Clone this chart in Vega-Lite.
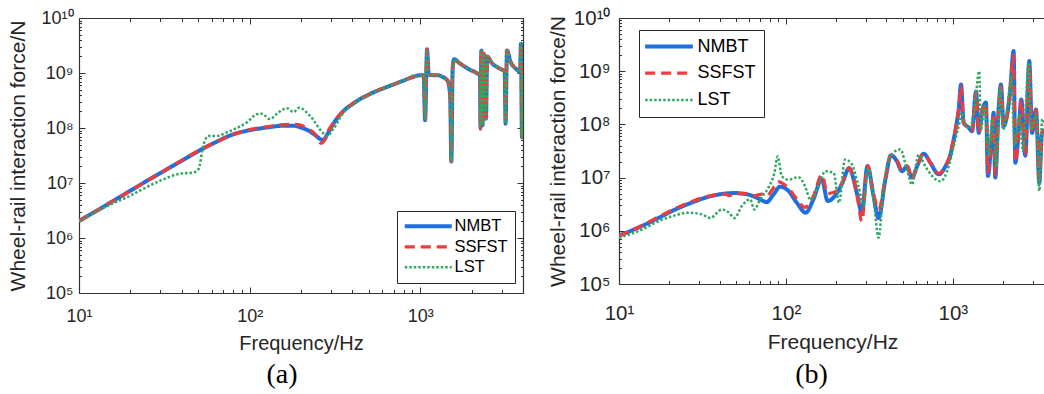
{
"$schema": "https://vega.github.io/schema/vega-lite/v6.json",
"background": "white",
"padding": {"left": 7, "top": 8, "right": 0, "bottom": 0},
"spacing": 23,
"config": {
  "view": {"stroke": null},
  "axis": {"labelFont": "Liberation Sans", "titleFont": "Liberation Sans", "labelColor": "#262626", "titleColor": "#262626", "titleFontWeight": "normal", "domainColor": "#333333", "domainWidth": 1.2, "tickColor": "#333333", "tickWidth": 1, "grid": false, "labelOverlap": false, "labelFlush": false}
},
"datasets": {
  "a": [
    {"s":"NMBT","f":10,"v":2.04e6},{"s":"NMBT","f":12.6,"v":3.09e6},{"s":"NMBT","f":15.8,"v":4.68e6},{"s":"NMBT","f":20,"v":7.24e6},{"s":"NMBT","f":25.1,"v":1.10e7},{"s":"NMBT","f":31.6,"v":1.66e7},{"s":"NMBT","f":39.8,"v":2.51e7},{"s":"NMBT","f":50.1,"v":3.80e7},{"s":"NMBT","f":63.1,"v":5.50e7},{"s":"NMBT","f":79.4,"v":7.59e7},{"s":"NMBT","f":100,"v":9.12e7},{"s":"NMBT","f":126,"v":1.02e8},{"s":"NMBT","f":158,"v":1.10e8},{"s":"NMBT","f":182,"v":1.10e8},{"s":"NMBT","f":200,"v":1.02e8},{"s":"NMBT","f":219,"v":9.12e7},{"s":"NMBT","f":240,"v":7.59e7},{"s":"NMBT","f":263,"v":6.17e7},{"s":"NMBT","f":272,"v":6.03e7},{"s":"NMBT","f":282,"v":7.24e7},{"s":"NMBT","f":316,"v":1.32e8},{"s":"NMBT","f":355,"v":2.04e8},{"s":"NMBT","f":398,"v":2.69e8},{"s":"NMBT","f":447,"v":3.39e8},{"s":"NMBT","f":501,"v":4.07e8},{"s":"NMBT","f":562,"v":4.79e8},{"s":"NMBT","f":631,"v":5.50e8},{"s":"NMBT","f":708,"v":6.31e8},{"s":"NMBT","f":794,"v":7.24e8},{"s":"NMBT","f":891,"v":8.32e8},{"s":"NMBT","f":1000,"v":9.12e8},{"s":"NMBT","f":1047,"v":9.12e8},{"s":"NMBT","f":1067,"v":1.38e8},{"s":"NMBT","f":1096,"v":2.69e9},{"s":"NMBT","f":1122,"v":9.33e8},{"s":"NMBT","f":1202,"v":9.12e8},{"s":"NMBT","f":1259,"v":9.12e8},{"s":"NMBT","f":1349,"v":8.51e8},{"s":"NMBT","f":1445,"v":7.24e8},{"s":"NMBT","f":1496,"v":3.98e8},{"s":"NMBT","f":1521,"v":2.45e7},{"s":"NMBT","f":1549,"v":1.26e9},{"s":"NMBT","f":1578,"v":1.78e9},{"s":"NMBT","f":1698,"v":1.51e9},{"s":"NMBT","f":1950,"v":1.15e9},{"s":"NMBT","f":2138,"v":1.0e9},{"s":"NMBT","f":2239,"v":8.91e8},{"s":"NMBT","f":2254,"v":1.02e8},{"s":"NMBT","f":2280,"v":2.57e9},{"s":"NMBT","f":2317,"v":1.12e8},{"s":"NMBT","f":2355,"v":2.24e9},{"s":"NMBT","f":2427,"v":1.48e8},{"s":"NMBT","f":2466,"v":2.0e9},{"s":"NMBT","f":2630,"v":1.51e9},{"s":"NMBT","f":2884,"v":1.23e9},{"s":"NMBT","f":3126,"v":1.05e9},{"s":"NMBT","f":3162,"v":1.20e8},{"s":"NMBT","f":3221,"v":2.57e9},{"s":"NMBT","f":3388,"v":1.58e9},{"s":"NMBT","f":3631,"v":1.20e9},{"s":"NMBT","f":3846,"v":1.05e9},{"s":"NMBT","f":3890,"v":3.39e9},{"s":"NMBT","f":3945,"v":6.76e7},{"s":"NMBT","f":4000,"v":1.0e9},
    {"s":"SSFST","f":10,"v":2.04e6},{"s":"SSFST","f":12.6,"v":3.09e6},{"s":"SSFST","f":15.8,"v":4.68e6},{"s":"SSFST","f":20,"v":7.24e6},{"s":"SSFST","f":25.1,"v":1.10e7},{"s":"SSFST","f":31.6,"v":1.68e7},{"s":"SSFST","f":39.8,"v":2.55e7},{"s":"SSFST","f":50.1,"v":3.85e7},{"s":"SSFST","f":63.1,"v":5.50e7},{"s":"SSFST","f":79.4,"v":7.59e7},{"s":"SSFST","f":100,"v":9.33e7},{"s":"SSFST","f":126,"v":1.05e8},{"s":"SSFST","f":158,"v":1.15e8},{"s":"SSFST","f":182,"v":1.17e8},{"s":"SSFST","f":200,"v":1.12e8},{"s":"SSFST","f":219,"v":9.77e7},{"s":"SSFST","f":240,"v":7.94e7},{"s":"SSFST","f":263,"v":5.25e7},{"s":"SSFST","f":272,"v":5.75e7},{"s":"SSFST","f":282,"v":7.59e7},{"s":"SSFST","f":316,"v":1.35e8},{"s":"SSFST","f":355,"v":2.04e8},{"s":"SSFST","f":398,"v":2.69e8},{"s":"SSFST","f":447,"v":3.39e8},{"s":"SSFST","f":501,"v":4.07e8},{"s":"SSFST","f":562,"v":4.79e8},{"s":"SSFST","f":631,"v":5.50e8},{"s":"SSFST","f":708,"v":6.31e8},{"s":"SSFST","f":794,"v":7.24e8},{"s":"SSFST","f":891,"v":8.32e8},{"s":"SSFST","f":1000,"v":9.12e8},{"s":"SSFST","f":1047,"v":9.12e8},{"s":"SSFST","f":1067,"v":1.38e8},{"s":"SSFST","f":1096,"v":2.69e9},{"s":"SSFST","f":1122,"v":9.33e8},{"s":"SSFST","f":1202,"v":9.12e8},{"s":"SSFST","f":1259,"v":9.12e8},{"s":"SSFST","f":1349,"v":8.51e8},{"s":"SSFST","f":1445,"v":7.24e8},{"s":"SSFST","f":1496,"v":3.98e8},{"s":"SSFST","f":1521,"v":2.45e7},{"s":"SSFST","f":1549,"v":1.26e9},{"s":"SSFST","f":1578,"v":1.78e9},{"s":"SSFST","f":1698,"v":1.51e9},{"s":"SSFST","f":1950,"v":1.15e9},{"s":"SSFST","f":2138,"v":1.0e9},{"s":"SSFST","f":2239,"v":8.91e8},{"s":"SSFST","f":2254,"v":9.5e7},{"s":"SSFST","f":2280,"v":2.57e9},{"s":"SSFST","f":2317,"v":1.12e8},{"s":"SSFST","f":2355,"v":2.24e9},{"s":"SSFST","f":2427,"v":1.48e8},{"s":"SSFST","f":2466,"v":2.0e9},{"s":"SSFST","f":2630,"v":1.51e9},{"s":"SSFST","f":2884,"v":1.23e9},{"s":"SSFST","f":3126,"v":1.05e9},{"s":"SSFST","f":3162,"v":1.20e8},{"s":"SSFST","f":3221,"v":2.57e9},{"s":"SSFST","f":3388,"v":1.58e9},{"s":"SSFST","f":3631,"v":1.20e9},{"s":"SSFST","f":3846,"v":1.05e9},{"s":"SSFST","f":3890,"v":3.39e9},{"s":"SSFST","f":3945,"v":6.76e7},{"s":"SSFST","f":4000,"v":1.0e9},
    {"s":"LST","f":10,"v":2.0e6},{"s":"LST","f":12.6,"v":3.0e6},{"s":"LST","f":15.8,"v":4.27e6},{"s":"LST","f":19.1,"v":5.50e6},{"s":"LST","f":24,"v":7.94e6},{"s":"LST","f":29.9,"v":1.10e7},{"s":"LST","f":39.1,"v":1.48e7},{"s":"LST","f":46.8,"v":1.55e7},{"s":"LST","f":50.1,"v":1.78e7},{"s":"LST","f":53.7,"v":5.01e7},{"s":"LST","f":57.5,"v":7.16e7},{"s":"LST","f":64.6,"v":7.16e7},{"s":"LST","f":73.5,"v":8.32e7},{"s":"LST","f":84.1,"v":1.0e8},{"s":"LST","f":96.2,"v":1.26e8},{"s":"LST","f":110,"v":1.78e8},{"s":"LST","f":117.5,"v":1.82e8},{"s":"LST","f":132,"v":1.45e8},{"s":"LST","f":144.5,"v":1.82e8},{"s":"LST","f":165,"v":2.29e8},{"s":"LST","f":181,"v":1.95e8},{"s":"LST","f":195,"v":2.34e8},{"s":"LST","f":226,"v":1.66e8},{"s":"LST","f":271,"v":7.94e7},{"s":"LST","f":284,"v":7.16e7},{"s":"LST","f":309,"v":9.55e7},{"s":"LST","f":355,"v":1.91e8},{"s":"LST","f":398,"v":2.57e8},{"s":"LST","f":447,"v":3.31e8},{"s":"LST","f":501,"v":4.0e8},{"s":"LST","f":562,"v":4.79e8},{"s":"LST","f":631,"v":5.50e8},{"s":"LST","f":708,"v":6.31e8},{"s":"LST","f":794,"v":7.24e8},{"s":"LST","f":850,"v":8.0e8},{"s":"LST","f":891,"v":8.91e8},{"s":"LST","f":950,"v":8.51e8},{"s":"LST","f":1000,"v":9.12e8},{"s":"LST","f":1047,"v":9.12e8},{"s":"LST","f":1067,"v":1.38e8},{"s":"LST","f":1096,"v":2.69e9},{"s":"LST","f":1122,"v":9.33e8},{"s":"LST","f":1202,"v":9.12e8},{"s":"LST","f":1259,"v":9.12e8},{"s":"LST","f":1349,"v":8.51e8},{"s":"LST","f":1445,"v":7.24e8},{"s":"LST","f":1496,"v":3.98e8},{"s":"LST","f":1521,"v":2.45e7},{"s":"LST","f":1549,"v":1.26e9},{"s":"LST","f":1578,"v":1.78e9},{"s":"LST","f":1698,"v":1.51e9},{"s":"LST","f":1950,"v":1.15e9},{"s":"LST","f":2138,"v":1.0e9},{"s":"LST","f":2239,"v":8.91e8},{"s":"LST","f":2254,"v":1.02e8},{"s":"LST","f":2280,"v":2.57e9},{"s":"LST","f":2317,"v":1.12e8},{"s":"LST","f":2355,"v":2.24e9},{"s":"LST","f":2427,"v":1.48e8},{"s":"LST","f":2466,"v":2.0e9},{"s":"LST","f":2630,"v":1.51e9},{"s":"LST","f":2884,"v":1.23e9},{"s":"LST","f":3126,"v":1.05e9},{"s":"LST","f":3162,"v":1.20e8},{"s":"LST","f":3221,"v":2.57e9},{"s":"LST","f":3388,"v":1.58e9},{"s":"LST","f":3631,"v":1.20e9},{"s":"LST","f":3846,"v":1.05e9},{"s":"LST","f":3890,"v":3.39e9},{"s":"LST","f":3945,"v":6.76e7},{"s":"LST","f":4000,"v":1.0e9}
  ],
  "b": [
    {"s":"NMBT","f":10,"v":8.13e5},{"s":"NMBT","f":13.7,"v":1.23e6},{"s":"NMBT","f":17.2,"v":1.74e6},{"s":"NMBT","f":21.7,"v":2.51e6},{"s":"NMBT","f":27.3,"v":3.39e6},{"s":"NMBT","f":34.4,"v":4.37e6},{"s":"NMBT","f":43.3,"v":5.01e6},{"s":"NMBT","f":49.5,"v":5.13e6},{"s":"NMBT","f":59.6,"v":4.79e6},{"s":"NMBT","f":68.4,"v":4.07e6},{"s":"NMBT","f":76.7,"v":3.47e6},{"s":"NMBT","f":84.1,"v":4.79e6},{"s":"NMBT","f":92.3,"v":6.76e6},{"s":"NMBT","f":103.5,"v":5.62e6},{"s":"NMBT","f":116,"v":3.39e6},{"s":"NMBT","f":131.5,"v":2.19e6},{"s":"NMBT","f":146,"v":3.89e6},{"s":"NMBT","f":164,"v":9.33e6},{"s":"NMBT","f":178,"v":3.63e6},{"s":"NMBT","f":202,"v":5.13e6},{"s":"NMBT","f":218,"v":7.94e6},{"s":"NMBT","f":239,"v":1.51e7},{"s":"NMBT","f":266,"v":5.13e6},{"s":"NMBT","f":285,"v":2.19e6},{"s":"NMBT","f":308,"v":1.66e7},{"s":"NMBT","f":335,"v":4.47e6},{"s":"NMBT","f":359,"v":1.74e6},{"s":"NMBT","f":394,"v":9.12e6},{"s":"NMBT","f":426,"v":2.63e7},{"s":"NMBT","f":462,"v":2.04e7},{"s":"NMBT","f":495,"v":1.32e7},{"s":"NMBT","f":531,"v":1.62e7},{"s":"NMBT","f":569,"v":1.0e7},{"s":"NMBT","f":610,"v":1.62e7},{"s":"NMBT","f":668,"v":2.82e7},{"s":"NMBT","f":733,"v":1.91e7},{"s":"NMBT","f":822,"v":1.15e7},{"s":"NMBT","f":902,"v":1.62e7},{"s":"NMBT","f":966,"v":2.69e7},{"s":"NMBT","f":1012,"v":5.25e7},{"s":"NMBT","f":1059,"v":1.15e8},{"s":"NMBT","f":1084,"v":1.91e8},{"s":"NMBT","f":1119,"v":5.62e8},{"s":"NMBT","f":1161,"v":1.07e8},{"s":"NMBT","f":1245,"v":8.71e7},{"s":"NMBT","f":1303,"v":7.41e7},{"s":"NMBT","f":1377,"v":4.17e8},{"s":"NMBT","f":1429,"v":6.92e7},{"s":"NMBT","f":1507,"v":1.91e8},{"s":"NMBT","f":1578,"v":2.57e8},{"s":"NMBT","f":1622,"v":1.07e7},{"s":"NMBT","f":1714,"v":6.92e7},{"s":"NMBT","f":1754,"v":1.66e8},{"s":"NMBT","f":1795,"v":1.0e7},{"s":"NMBT","f":1879,"v":1.91e8},{"s":"NMBT","f":1941,"v":5.62e8},{"s":"NMBT","f":2014,"v":9.33e7},{"s":"NMBT","f":2109,"v":1.45e8},{"s":"NMBT","f":2208,"v":4.57e8},{"s":"NMBT","f":2312,"v":2.40e9},{"s":"NMBT","f":2366,"v":1.91e7},{"s":"NMBT","f":2477,"v":6.92e7},{"s":"NMBT","f":2570,"v":2.95e8},{"s":"NMBT","f":2716,"v":2.57e7},{"s":"NMBT","f":2871,"v":1.55e9},{"s":"NMBT","f":2979,"v":6.92e7},{"s":"NMBT","f":3148,"v":1.91e8},{"s":"NMBT","f":3296,"v":7.94e6},{"s":"NMBT","f":3420,"v":6.92e7},{"s":"NMBT","f":3614,"v":7.94e7},
    {"s":"SSFST","f":10,"v":7.94e5},{"s":"SSFST","f":13.7,"v":1.26e6},{"s":"SSFST","f":17.2,"v":1.82e6},{"s":"SSFST","f":21.7,"v":2.63e6},{"s":"SSFST","f":27.3,"v":3.55e6},{"s":"SSFST","f":34.4,"v":4.47e6},{"s":"SSFST","f":43.3,"v":4.90e6},{"s":"SSFST","f":45.7,"v":4.57e6},{"s":"SSFST","f":49.5,"v":5.01e6},{"s":"SSFST","f":59.6,"v":5.01e6},{"s":"SSFST","f":65.3,"v":4.57e6},{"s":"SSFST","f":71.6,"v":4.90e6},{"s":"SSFST","f":76.7,"v":4.57e6},{"s":"SSFST","f":86.1,"v":7.08e6},{"s":"SSFST","f":90.2,"v":8.32e6},{"s":"SSFST","f":103.5,"v":6.31e6},{"s":"SSFST","f":116,"v":3.98e6},{"s":"SSFST","f":130,"v":2.75e6},{"s":"SSFST","f":146,"v":4.47e6},{"s":"SSFST","f":164,"v":1.12e7},{"s":"SSFST","f":178,"v":5.01e6},{"s":"SSFST","f":202,"v":5.62e6},{"s":"SSFST","f":218,"v":8.32e6},{"s":"SSFST","f":239,"v":1.51e7},{"s":"SSFST","f":266,"v":5.01e6},{"s":"SSFST","f":285,"v":1.51e6},{"s":"SSFST","f":308,"v":1.66e7},{"s":"SSFST","f":335,"v":5.01e6},{"s":"SSFST","f":359,"v":2.51e6},{"s":"SSFST","f":394,"v":9.55e6},{"s":"SSFST","f":426,"v":2.63e7},{"s":"SSFST","f":462,"v":2.14e7},{"s":"SSFST","f":495,"v":1.41e7},{"s":"SSFST","f":531,"v":1.66e7},{"s":"SSFST","f":569,"v":9.55e6},{"s":"SSFST","f":610,"v":1.66e7},{"s":"SSFST","f":668,"v":2.82e7},{"s":"SSFST","f":733,"v":1.91e7},{"s":"SSFST","f":822,"v":1.20e7},{"s":"SSFST","f":902,"v":1.66e7},{"s":"SSFST","f":966,"v":2.82e7},{"s":"SSFST","f":1012,"v":5.50e7},{"s":"SSFST","f":1059,"v":1.20e8},{"s":"SSFST","f":1084,"v":1.91e8},{"s":"SSFST","f":1119,"v":5.25e8},{"s":"SSFST","f":1161,"v":1.07e8},{"s":"SSFST","f":1245,"v":8.91e7},{"s":"SSFST","f":1303,"v":7.59e7},{"s":"SSFST","f":1377,"v":3.98e8},{"s":"SSFST","f":1429,"v":7.08e7},{"s":"SSFST","f":1507,"v":1.86e8},{"s":"SSFST","f":1578,"v":2.40e8},{"s":"SSFST","f":1622,"v":1.26e7},{"s":"SSFST","f":1714,"v":7.08e7},{"s":"SSFST","f":1754,"v":1.58e8},{"s":"SSFST","f":1795,"v":1.12e7},{"s":"SSFST","f":1879,"v":1.86e8},{"s":"SSFST","f":1941,"v":5.25e8},{"s":"SSFST","f":2014,"v":9.55e7},{"s":"SSFST","f":2109,"v":1.41e8},{"s":"SSFST","f":2208,"v":4.47e8},{"s":"SSFST","f":2312,"v":2.0e9},{"s":"SSFST","f":2366,"v":2.0e7},{"s":"SSFST","f":2477,"v":7.08e7},{"s":"SSFST","f":2570,"v":2.82e8},{"s":"SSFST","f":2716,"v":2.69e7},{"s":"SSFST","f":2871,"v":1.26e9},{"s":"SSFST","f":2979,"v":7.08e7},{"s":"SSFST","f":3148,"v":1.86e8},{"s":"SSFST","f":3296,"v":1.0e7},{"s":"SSFST","f":3420,"v":7.08e7},{"s":"SSFST","f":3614,"v":7.94e7},
    {"s":"LST","f":10,"v":7.41e5},{"s":"LST","f":13.7,"v":1.05e6},{"s":"LST","f":17.2,"v":1.51e6},{"s":"LST","f":21.7,"v":1.95e6},{"s":"LST","f":26.1,"v":2.19e6},{"s":"LST","f":31.3,"v":2.04e6},{"s":"LST","f":35.2,"v":1.74e6},{"s":"LST","f":41.3,"v":2.51e6},{"s":"LST","f":45.2,"v":2.24e6},{"s":"LST","f":49.2,"v":1.74e6},{"s":"LST","f":54.3,"v":2.88e6},{"s":"LST","f":61.0,"v":3.89e6},{"s":"LST","f":64.7,"v":2.51e6},{"s":"LST","f":70.0,"v":3.89e6},{"s":"LST","f":78.5,"v":6.46e6},{"s":"LST","f":85.3,"v":1.23e7},{"s":"LST","f":89.3,"v":2.51e7},{"s":"LST","f":94.4,"v":1.07e7},{"s":"LST","f":103.5,"v":9.12e6},{"s":"LST","f":119,"v":1.02e7},{"s":"LST","f":130,"v":6.92e6},{"s":"LST","f":140,"v":3.89e6},{"s":"LST","f":157,"v":6.92e6},{"s":"LST","f":172,"v":1.32e7},{"s":"LST","f":193,"v":1.23e7},{"s":"LST","f":208,"v":3.39e6},{"s":"LST","f":226,"v":2.19e7},{"s":"LST","f":248,"v":1.78e7},{"s":"LST","f":272,"v":6.92e6},{"s":"LST","f":292,"v":2.88e6},{"s":"LST","f":310,"v":1.51e7},{"s":"LST","f":335,"v":3.89e6},{"s":"LST","f":359,"v":7.41e5},{"s":"LST","f":385,"v":6.92e6},{"s":"LST","f":422,"v":2.51e7},{"s":"LST","f":484,"v":3.39e7},{"s":"LST","f":531,"v":1.41e7},{"s":"LST","f":569,"v":7.41e6},{"s":"LST","f":624,"v":2.69e7},{"s":"LST","f":684,"v":1.62e7},{"s":"LST","f":841,"v":8.51e6},{"s":"LST","f":944,"v":1.62e7},{"s":"LST","f":1012,"v":3.89e7},{"s":"LST","f":1084,"v":9.33e7},{"s":"LST","f":1135,"v":1.66e8},{"s":"LST","f":1175,"v":1.12e8},{"s":"LST","f":1259,"v":8.32e7},{"s":"LST","f":1349,"v":2.0e8},{"s":"LST","f":1439,"v":1.0e9},{"s":"LST","f":1472,"v":7.94e7},{"s":"LST","f":1549,"v":2.24e8},{"s":"LST","f":1641,"v":2.51e7},{"s":"LST","f":1718,"v":1.26e8},{"s":"LST","f":1820,"v":1.58e7},{"s":"LST","f":1928,"v":5.01e8},{"s":"LST","f":1995,"v":7.94e7},{"s":"LST","f":2138,"v":2.51e8},{"s":"LST","f":2239,"v":8.13e8},{"s":"LST","f":2344,"v":3.98e7},{"s":"LST","f":2512,"v":1.58e8},{"s":"LST","f":2630,"v":3.16e7},{"s":"LST","f":2844,"v":1.45e9},{"s":"LST","f":2951,"v":7.94e7},{"s":"LST","f":3162,"v":1.58e8},{"s":"LST","f":3296,"v":5.62e6},{"s":"LST","f":3428,"v":1.26e8},{"s":"LST","f":3614,"v":7.94e7}
  ]
},
"resolve": {
  "scale": {"x": "independent", "y": "independent", "color": "independent", "strokeDash": "independent", "strokeWidth": "independent"},
  "legend": {"color": "independent", "strokeDash": "independent", "strokeWidth": "independent"}
},
"hconcat": [
  {
    "width": 444,
    "height": 275,
    "title": {"text": "(a)", "orient": "bottom", "anchor": "middle", "font": "Liberation Serif", "fontSize": 28, "fontWeight": "normal", "color": "#000000", "dx": -19, "offset": 8},
    "layer": [
      {
        "data": {"name": "a"},
        "mark": {"type": "line", "interpolate": "monotone", "clip": true},
        "encoding": {
          "x": {"field": "f", "type": "quantitative", "scale": {"type": "log", "domain": [10, 4000], "nice": false},
            "axis": {"orient": "bottom", "values": [10, 100, 1000],
              "labelExpr": "'10' + ['⁰','¹','²','³','⁴','⁵','⁶','⁷','⁸','⁹','¹⁰'][round(log(datum.value)/LN10)]",
              "labelFontSize": 18, "labelPadding": 20, "tickSize": -6,
              "title": "Frequency/Hz", "titleFontSize": 20, "titlePadding": 8, "domain": true}},
          "y": {"field": "v", "type": "quantitative", "scale": {"type": "log", "domain": [1e5, 1e10], "nice": false},
            "axis": {"orient": "left", "values": [1e5, 1e6, 1e7, 1e8, 1e9, 1e10],
              "labelExpr": "'10' + ['⁰','¹','²','³','⁴','⁵','⁶','⁷','⁸','⁹','¹⁰'][round(log(datum.value)/LN10)]",
              "labelFontSize": 18, "labelPadding": 12, "tickSize": -6,
              "title": "Wheel-rail interaction force/N", "titleFontSize": 21, "titlePadding": 12, "domain": true}},
          "color": {"field": "s", "type": "nominal", "scale": {"domain": ["NMBT", "SSFST", "LST"], "range": ["#1d6fe0", "#ee3c3c", "#30a860"]},
            "legend": {"orient": "none", "legendX": 318, "legendY": 193, "title": null, "direction": "vertical", "labelFont": "Liberation Sans", "labelFontSize": 16.5, "labelColor": "#000000", "labelExpr": "datum.label + '\u00a0'", "symbolType": "M-4,0H4", "symbolSize": 138, "symbolOffset": 16, "labelOffset": 18, "padding": 7, "rowPadding": 3.5, "strokeColor": "#262626", "fillColor": "white", "cornerRadius": 0}},
          "strokeDash": {"field": "s", "type": "nominal", "scale": {"domain": ["NMBT", "SSFST", "LST"], "range": [[1, 0], [10, 6], [2.5, 2]]},
            "legend": {"orient": "none", "legendX": 318, "legendY": 193, "title": null, "direction": "vertical", "labelFont": "Liberation Sans", "labelFontSize": 16.5, "labelColor": "#000000", "labelExpr": "datum.label + '\u00a0'", "symbolType": "M-4,0H4", "symbolSize": 138, "symbolOffset": 16, "labelOffset": 18, "padding": 7, "rowPadding": 3.5, "strokeColor": "#262626", "fillColor": "white", "cornerRadius": 0}},
          "strokeWidth": {"field": "s", "type": "nominal", "scale": {"domain": ["NMBT", "SSFST", "LST"], "range": [4, 2.5]},
            "legend": {"orient": "none", "legendX": 318, "legendY": 193, "title": null, "direction": "vertical", "labelFont": "Liberation Sans", "labelFontSize": 16.5, "labelColor": "#000000", "labelExpr": "datum.label + '\u00a0'", "symbolType": "M-4,0H4", "symbolSize": 138, "symbolOffset": 16, "labelOffset": 18, "padding": 7, "rowPadding": 3.5, "strokeColor": "#262626", "fillColor": "white", "cornerRadius": 0}}
        }
      },
      {
        "data": {"values": [{"f": 10, "v": 1e5}]},
        "mark": {"type": "point", "opacity": 0},
        "encoding": {
          "x": {"field": "f", "type": "quantitative", "scale": {"type": "log", "domain": [10, 4000], "nice": false},
            "axis": {"orient": "top", "values": [10, 100, 1000], "labels": false, "title": null, "tickSize": -6, "domain": true}},
          "y": {"field": "v", "type": "quantitative", "scale": {"type": "log", "domain": [1e5, 1e10], "nice": false},
            "axis": {"orient": "right", "values": [1e5, 1e6, 1e7, 1e8, 1e9, 1e10], "labels": false, "title": null, "tickSize": -6, "domain": true}}
        }
      },
      {
        "data": {"values": [{"f": 10, "v": 1e5}]},
        "mark": {"type": "point", "opacity": 0},
        "encoding": {
          "x": {"field": "f", "type": "quantitative", "scale": {"type": "log", "domain": [10, 4000], "nice": false},
            "axis": {"orient": "bottom", "values": [20,30,40,50,60,70,80,90,200,300,400,500,600,700,800,900,2000,3000,4000], "labels": false, "title": null, "tickSize": -3.5, "domain": false}},
          "y": {"field": "v", "type": "quantitative", "scale": {"type": "log", "domain": [1e5, 1e10], "nice": false},
            "axis": {"orient": "left", "values": [2e5,3e5,4e5,5e5,6e5,7e5,8e5,9e5,2e6,3e6,4e6,5e6,6e6,7e6,8e6,9e6,2e7,3e7,4e7,5e7,6e7,7e7,8e7,9e7,2e8,3e8,4e8,5e8,6e8,7e8,8e8,9e8,2e9,3e9,4e9,5e9,6e9,7e9,8e9,9e9], "labels": false, "title": null, "tickSize": -2.5, "domain": false}}
        }
      },
      {
        "data": {"values": [{"f": 10, "v": 1e5}]},
        "mark": {"type": "point", "opacity": 0},
        "encoding": {
          "x": {"field": "f", "type": "quantitative", "scale": {"type": "log", "domain": [10, 4000], "nice": false},
            "axis": {"orient": "top", "values": [20,30,40,50,60,70,80,90,200,300,400,500,600,700,800,900,2000,3000,4000], "labels": false, "title": null, "tickSize": -3.5, "domain": false}},
          "y": {"field": "v", "type": "quantitative", "scale": {"type": "log", "domain": [1e5, 1e10], "nice": false},
            "axis": {"orient": "right", "values": [2e5,3e5,4e5,5e5,6e5,7e5,8e5,9e5,2e6,3e6,4e6,5e6,6e6,7e6,8e6,9e6,2e7,3e7,4e7,5e7,6e7,7e7,8e7,9e7,2e8,3e8,4e8,5e8,6e8,7e8,8e8,9e8,2e9,3e9,4e9,5e9,6e9,7e9,8e9,9e9], "labels": false, "title": null, "tickSize": -2.5, "domain": false}}
        }
      }
    ],
    "resolve": {"axis": {"x": "independent", "y": "independent"}}
  },
  {
    "width": 427,
    "height": 266,
    "title": {"text": "(b)", "orient": "bottom", "anchor": "middle", "font": "Liberation Serif", "fontSize": 28, "fontWeight": "normal", "color": "#000000", "dx": -21, "offset": 8},
    "layer": [
      {
        "data": {"name": "b"},
        "mark": {"type": "line", "interpolate": "monotone", "clip": true},
        "encoding": {
          "x": {"field": "f", "type": "quantitative", "scale": {"type": "log", "domain": [10, 3614], "nice": false},
            "axis": {"orient": "bottom", "values": [10, 100, 1000],
              "labelExpr": "'10' + ['⁰','¹','²','³','⁴','⁵','⁶','⁷','⁸','⁹','¹⁰'][round(log(datum.value)/LN10)]",
              "labelFontSize": 20.5, "labelPadding": 25, "tickSize": -6,
              "title": "Frequency/Hz", "titleFontSize": 21, "titlePadding": 8, "domain": true}},
          "y": {"field": "v", "type": "quantitative", "scale": {"type": "log", "domain": [1e5, 1e10], "nice": false},
            "axis": {"orient": "left", "values": [1e5, 1e6, 1e7, 1e8, 1e9, 1e10],
              "labelExpr": "'10' + ['⁰','¹','²','³','⁴','⁵','⁶','⁷','⁸','⁹','¹⁰'][round(log(datum.value)/LN10)]",
              "labelFontSize": 20.5, "labelPadding": 15, "tickSize": -6,
              "title": "Wheel-rail interaction force/N", "titleFontSize": 21, "titlePadding": 5, "domain": true}},
          "color": {"field": "s", "type": "nominal", "scale": {"domain": ["NMBT", "SSFST", "LST"], "range": ["#1d6fe0", "#ee3c3c", "#30a860"]},
            "legend": {"orient": "none", "legendX": 20, "legendY": 12, "title": null, "direction": "vertical", "labelFont": "Liberation Sans", "labelFontSize": 18, "labelColor": "#000000", "labelExpr": "datum.label + '\u00a0\u00a0\u00a0\u00a0'", "symbolType": "M-4,0H4", "symbolSize": 142, "symbolOffset": 13.5, "labelOffset": 19.5, "padding": 7.5, "rowPadding": 8.7, "strokeColor": "#262626", "fillColor": "white", "cornerRadius": 0}},
          "strokeDash": {"field": "s", "type": "nominal", "scale": {"domain": ["NMBT", "SSFST", "LST"], "range": [[1, 0], [10, 6], [2.5, 2]]},
            "legend": {"orient": "none", "legendX": 20, "legendY": 12, "title": null, "direction": "vertical", "labelFont": "Liberation Sans", "labelFontSize": 18, "labelColor": "#000000", "labelExpr": "datum.label + '\u00a0\u00a0\u00a0\u00a0'", "symbolType": "M-4,0H4", "symbolSize": 142, "symbolOffset": 13.5, "labelOffset": 19.5, "padding": 7.5, "rowPadding": 8.7, "strokeColor": "#262626", "fillColor": "white", "cornerRadius": 0}},
          "strokeWidth": {"field": "s", "type": "nominal", "scale": {"domain": ["NMBT", "SSFST", "LST"], "range": [4, 2.5]},
            "legend": {"orient": "none", "legendX": 20, "legendY": 12, "title": null, "direction": "vertical", "labelFont": "Liberation Sans", "labelFontSize": 18, "labelColor": "#000000", "labelExpr": "datum.label + '\u00a0\u00a0\u00a0\u00a0'", "symbolType": "M-4,0H4", "symbolSize": 142, "symbolOffset": 13.5, "labelOffset": 19.5, "padding": 7.5, "rowPadding": 8.7, "strokeColor": "#262626", "fillColor": "white", "cornerRadius": 0}}
        }
      },
      {
        "data": {"values": [{"f": 10, "v": 1e5}]},
        "mark": {"type": "point", "opacity": 0},
        "encoding": {
          "x": {"field": "f", "type": "quantitative", "scale": {"type": "log", "domain": [10, 3614], "nice": false},
            "axis": {"orient": "top", "values": [10, 100, 1000], "labels": false, "title": null, "tickSize": -6, "domain": true}},
          "y": {"field": "v", "type": "quantitative", "scale": {"type": "log", "domain": [1e5, 1e10], "nice": false},
            "axis": {"orient": "right", "values": [1e5, 1e10], "labels": false, "title": null, "ticks": false, "domain": false}}
        }
      },
      {
        "data": {"values": [{"f": 10, "v": 1e5}]},
        "mark": {"type": "point", "opacity": 0},
        "encoding": {
          "x": {"field": "f", "type": "quantitative", "scale": {"type": "log", "domain": [10, 3614], "nice": false},
            "axis": {"orient": "bottom", "values": [20,30,40,50,60,70,80,90,200,300,400,500,600,700,800,900,2000,3000], "labels": false, "title": null, "tickSize": -3.5, "domain": false}},
          "y": {"field": "v", "type": "quantitative", "scale": {"type": "log", "domain": [1e5, 1e10], "nice": false},
            "axis": {"orient": "left", "values": [2e5,3e5,4e5,5e5,6e5,7e5,8e5,9e5,2e6,3e6,4e6,5e6,6e6,7e6,8e6,9e6,2e7,3e7,4e7,5e7,6e7,7e7,8e7,9e7,2e8,3e8,4e8,5e8,6e8,7e8,8e8,9e8,2e9,3e9,4e9,5e9,6e9,7e9,8e9,9e9], "labels": false, "title": null, "tickSize": -2.5, "domain": false}}
        }
      },
      {
        "data": {"values": [{"f": 10, "v": 1e5}]},
        "mark": {"type": "point", "opacity": 0},
        "encoding": {
          "x": {"field": "f", "type": "quantitative", "scale": {"type": "log", "domain": [10, 3614], "nice": false},
            "axis": {"orient": "top", "values": [20,30,40,50,60,70,80,90,200,300,400,500,600,700,800,900,2000,3000], "labels": false, "title": null, "tickSize": -3.5, "domain": false}},
          "y": {"field": "v", "type": "quantitative", "scale": {"type": "log", "domain": [1e5, 1e10], "nice": false},
            "axis": {"orient": "right", "values": [1e5, 1e10], "labels": false, "title": null, "ticks": false, "domain": false}}
        }
      }
    ],
    "resolve": {"axis": {"x": "independent", "y": "independent"}}
  }
]
}
